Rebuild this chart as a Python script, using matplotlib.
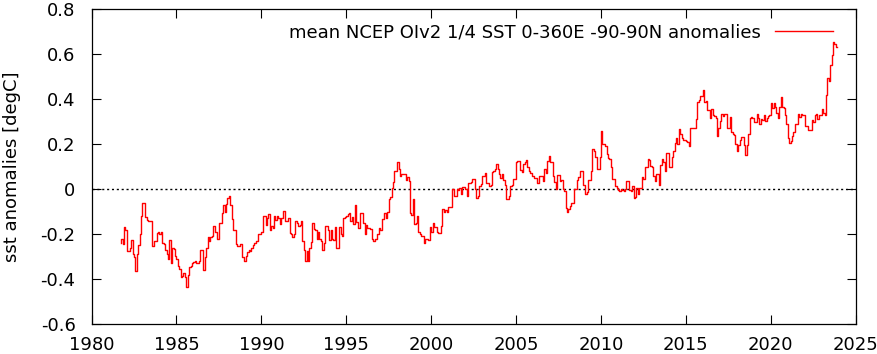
import numpy as np
import matplotlib
matplotlib.use("Agg")
import matplotlib.pyplot as plt
from matplotlib.ticker import FuncFormatter

# Monthly global mean SST anomalies (degC), starting Sep 1981
start_year = 1981 + 8 / 12.0

sst_1981_1989 = [
    -0.24, -0.22, -0.245, -0.17,
    -0.18, -0.276, -0.276, -0.26, -0.225, -0.29, -0.3, -0.366, -0.29, -0.25, -0.2, -0.12,
    -0.064, -0.064, -0.126, -0.138, -0.14, -0.14, -0.14, -0.253, -0.231, -0.231, -0.197, -0.193,
    -0.2, -0.193, -0.241, -0.246, -0.27, -0.29, -0.31, -0.227, -0.33, -0.264, -0.267, -0.297,
    -0.313, -0.34, -0.356, -0.39, -0.387, -0.375, -0.39, -0.437, -0.38, -0.348, -0.34, -0.33,
    -0.323, -0.32, -0.327, -0.33, -0.32, -0.27, -0.27, -0.36, -0.3, -0.26, -0.212, -0.23,
    -0.212, -0.21, -0.164, -0.19, -0.193, -0.22, -0.153, -0.15, -0.108, -0.07, -0.1, -0.068,
    -0.04, -0.031, -0.07, -0.135, -0.18, -0.18, -0.245, -0.253, -0.253, -0.245, -0.304, -0.304,
    -0.32, -0.297, -0.28, -0.27, -0.274, -0.26, -0.25, -0.238, -0.23, -0.23, -0.2, -0.2,
]

sst_1990s = [
    -0.193,
    -0.119, -0.119, -0.16, -0.13, -0.113, -0.182, -0.164, -0.175, -0.12, -0.138,
    -0.12, -0.13, -0.156, -0.13, -0.096, -0.098, -0.142, -0.142, -0.13, -0.197,
    -0.2, -0.212, -0.2, -0.142, -0.15, -0.164, -0.16, -0.14, -0.23, -0.27,
    -0.32, -0.275, -0.32, -0.26, -0.237, -0.15, -0.178, -0.18, -0.224, -0.19,
    -0.224, -0.23, -0.27, -0.24, -0.164, -0.164, -0.18, -0.227, -0.18, -0.224,
    -0.227, -0.17, -0.26, -0.26, -0.167, -0.2, -0.21, -0.13, -0.123, -0.12,
    -0.113, -0.108, -0.14, -0.123, -0.156, -0.071, -0.145, -0.175, -0.175, -0.108,
    -0.108, -0.15, -0.2, -0.16, -0.175, -0.175, -0.176, -0.224, -0.233, -0.224,
    -0.224, -0.2, -0.175, -0.18, -0.135, -0.135, -0.105, -0.13, -0.1, -0.046,
    -0.037, 0.003, 0.033, 0.079, 0.081, 0.12, 0.087, 0.06, 0.065, 0.065,
    0.065, 0.04, 0.055, 0.036, -0.108, -0.115, -0.046, -0.156, -0.15, -0.12,
    -0.19, -0.2, -0.208, -0.21, -0.24, -0.22, -0.222, -0.225, -0.169,
]

sst_2000s = [
    -0.193,
    -0.151, -0.17, -0.17, -0.19, -0.195, -0.195, -0.163, -0.089, -0.1, -0.092,
    -0.104, -0.08, -0.08, -0.08, 0.0, -0.033, -0.03, 0.0, -0.005, 0.004,
    -0.02, 0.009, 0.009, 0.0, -0.033, 0.027, 0.025, 0.03, 0.044, 0.044,
    0.0, -0.04, -0.033, 0.012, 0.024, 0.056, 0.059, 0.071, 0.027, 0.027,
    0.015, 0.019, 0.077, 0.078, 0.089, 0.11, 0.089, 0.067, 0.05, 0.065,
    0.038, 0.02, -0.044, -0.044, -0.033, 0.012, 0.019, 0.044, 0.044, 0.119,
    0.123, 0.123, 0.083, 0.074, 0.113, 0.118, 0.127, 0.098, 0.079, 0.071,
    0.06, 0.056, 0.048, 0.05, 0.025, 0.06, 0.056, 0.056, 0.035, 0.089,
    0.07, 0.123, 0.148, 0.119, 0.119, 0.059, 0.03, 0.0, 0.064, 0.064,
    0.035, 0.038, 0.0, -0.01, -0.084, -0.1, -0.09, -0.076, -0.06, -0.06,
    0.0, 0.0, 0.04, 0.055, 0.08, 0.08, 0.02, 0.02, -0.024, -0.015,
    0.04, 0.04, 0.081, 0.18, 0.17, 0.144, 0.087, 0.087, 0.144,
]

sst_2010s = [
    0.26,
    0.2, 0.2, 0.192, 0.156, 0.139, 0.133, 0.1, 0.043, 0.043, 0.013,
    0.003, -0.005, -0.01, 0.0, -0.004, -0.01, 0.0, 0.036, 0.036, -0.005,
    -0.01, 0.013, -0.04, -0.037, 0.003, -0.02, 0.003, 0.003, 0.055, 0.043,
    0.096, 0.096, 0.132, 0.129, 0.102, 0.096, 0.058, 0.036, 0.065, 0.067,
    0.018, 0.107, 0.132, 0.12, 0.08, 0.161, 0.161, 0.1, 0.1, 0.141,
    0.17, 0.203, 0.225, 0.2, 0.265, 0.244, 0.225, 0.22, 0.22, 0.215,
    0.21, 0.19, 0.27, 0.27, 0.27, 0.273, 0.31, 0.388, 0.396, 0.415,
    0.415, 0.44, 0.388, 0.39, 0.351, 0.351, 0.314, 0.355, 0.33, 0.325,
    0.314, 0.236, 0.27, 0.304, 0.332, 0.325, 0.332, 0.332, 0.273, 0.273,
    0.32, 0.255, 0.244, 0.24, 0.2, 0.17, 0.196, 0.218, 0.233, 0.23,
    0.196, 0.15, 0.196, 0.243, 0.317, 0.321, 0.314, 0.296, 0.296, 0.332,
    0.314, 0.29, 0.311, 0.307, 0.329, 0.302, 0.314, 0.326, 0.329,
]

sst_2020s = [
    0.381,
    0.36, 0.381, 0.366, 0.34, 0.314, 0.366, 0.41, 0.366, 0.36, 0.329,
    0.287, 0.225, 0.203, 0.213, 0.237, 0.252, 0.287, 0.29, 0.332, 0.322,
    0.332, 0.329, 0.329, 0.28, 0.28, 0.262, 0.262, 0.262, 0.307, 0.3,
    0.329, 0.332, 0.31, 0.329, 0.33, 0.356, 0.337, 0.33, 0.42, 0.492,
    0.48, 0.551, 0.596, 0.652, 0.643, 0.633,
]

x_ticks = [1980, 1985, 1990, 1995, 2000, 2005, 2010, 2015, 2020, 2025]
y_ticks = [-0.6, -0.4, -0.2, 0, 0.2, 0.4, 0.6, 0.8]
legend_label = "mean NCEP OIv2 1/4 SST 0-360E -90-90N anomalies"
y_label = "sst anomalies [degC]"

sst = np.concatenate([sst_1981_1989, sst_1990s, sst_2000s, sst_2010s, sst_2020s])
years = start_year + (np.arange(len(sst)) + 0.5) / 12.0

plt.rcParams["font.family"] = "DejaVu Sans"
plt.rcParams["axes.unicode_minus"] = False
FS = 13

fig = plt.figure(figsize=(8.78, 3.54), dpi=100)
ax = fig.add_axes([91.5 / 878, 1 - 324 / 354, (855.7 - 91.5) / 878, (324 - 9) / 354])

ax.axhline(0, color="black", lw=1.0, ls=(0, (1.5, 2.0)), zorder=1)
ax.step(years, sst, where="mid", color="#ff0000", lw=1.0, label=legend_label, zorder=2)

ax.set_xlim(1980, 2025)
ax.set_ylim(-0.6, 0.8)
ax.set_xticks(x_ticks)
ax.set_yticks(y_ticks)
ax.yaxis.set_major_formatter(FuncFormatter(lambda v, p: f"{v:g}"))
ax.tick_params(direction="in", top=True, right=True, length=6.5, width=0.8, labelsize=FS)
ax.tick_params(axis="x", pad=8.5)
ax.tick_params(axis="y", pad=11.5)
for s in ax.spines.values():
    s.set_linewidth(0.9)

ax.set_ylabel(y_label, fontsize=FS, labelpad=14)

leg = ax.legend(loc="upper right", bbox_to_anchor=(0.9703, 0.955), frameon=False,
                markerfirst=False, fontsize=FS, handlelength=3.2, handletextpad=0.78,
                borderaxespad=0.0, borderpad=0.0)

fig.savefig("out.png", dpi=100)
